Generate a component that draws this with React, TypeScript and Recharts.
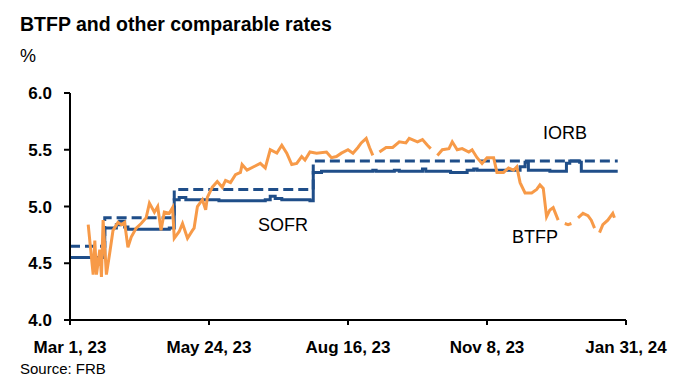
import React from 'react';
import { LineChart, Line, XAxis, YAxis } from 'recharts';

// days counted from Mar 1, 2023
const xTicks = [0, 84, 168, 252, 336];
const xTickLabels = ['Mar 1, 23', 'May 24, 23', 'Aug 16, 23', 'Nov 8, 23', 'Jan 31, 24'];
const yTicks = [4.0, 4.5, 5.0, 5.5, 6.0];

const iorbDays = [0, 21, 63, 147, 331];
const iorbValues = [4.65, 4.9, 5.15, 5.4, 5.4];

const sofrDays = [0, 21, 28, 30, 33, 35, 60, 63, 66, 70, 90, 118, 121, 124, 128, 145, 147, 152, 183, 185, 196, 199, 213, 215, 225, 230, 240, 244, 246, 265, 272, 275, 277, 290, 300, 302, 308, 309, 331];
const sofrValues = [4.55, 4.81, 4.84, 4.87, 4.82, 4.8, 4.81, 5.06, 5.08, 5.06, 5.05, 5.06, 5.09, 5.07, 5.06, 5.05, 5.3, 5.31, 5.32, 5.31, 5.32, 5.31, 5.33, 5.31, 5.31, 5.3, 5.32, 5.33, 5.32, 5.32, 5.35, 5.39, 5.32, 5.31, 5.38, 5.4, 5.39, 5.31, 5.31];

const btfpDays = [11, 14, 15, 16, 18, 19, 20, 22, 24, 26, 29, 31, 33, 35, 37, 40, 43, 46, 48, 51, 53, 55, 57, 60, 62, 63, 66, 68, 71, 74, 75, 77, 80, 82, 83, 86, 89, 92, 94, 97, 100, 103, 104, 107, 111, 115, 118, 121, 125, 128, 131, 134, 137, 140, 142, 145, 149, 155, 158, 161, 164, 168, 171, 174, 176, 179, 181, 183, 185, 187, 191, 195, 199, 203, 205, 210, 213, 216, 218, 220, 222, 225, 229, 231, 234, 237, 241, 243, 246, 249, 252, 256, 258, 262, 265, 268, 270, 272, 275, 279, 282, 284, 286, 288, 290, 292, 295, 297, 299, 301, 303, 305, 307, 310, 313, 315, 317, 319, 320, 322, 325, 328, 329];
const btfpValues = [4.84, 4.4, 4.7, 4.4, 4.62, 4.38, 4.88, 4.4, 4.59, 4.79, 4.86, 4.84, 4.86, 4.64, 4.73, 4.81, 4.85, 4.9, 5.03, 4.95, 5.0, 4.79, 4.95, 4.94, 4.99, 4.72, 4.78, 4.85, 4.72, 4.79, 4.81, 5.0, 5.06, 4.97, 5.08, 5.17, 5.22, 5.17, 5.23, 5.21, 5.28, 5.3, 5.37, 5.32, 5.35, 5.38, 5.34, 5.5, 5.47, 5.54, 5.47, 5.37, 5.38, 5.44, 5.41, 5.48, 5.47, 5.48, 5.43, 5.44, 5.47, 5.5, 5.47, 5.52, 5.56, 5.6, 5.52, 5.45, null, 5.48, 5.52, 5.52, 5.57, 5.56, 5.6, 5.57, 5.59, 5.54, 5.51, null, 5.45, 5.5, 5.51, 5.57, 5.5, 5.51, 5.48, 5.5, 5.43, 5.38, 5.43, 5.43, 5.3, 5.3, 5.34, 5.32, 5.35, 5.21, 5.12, 5.12, 5.15, 5.19, 5.16, 4.91, 4.97, 4.99, 4.88, null, 4.85, 4.84, 4.85, null, 4.9, 4.94, 4.92, 4.88, 4.81, null, 4.77, 4.84, 4.88, 4.94, 4.9];

const toRows = (days: number[], values: (number | null)[]) =>
  days.map((d, i) => ({ day: d, value: values[i] }));

const iorbData = toRows(iorbDays, iorbValues);
const sofrData = toRows(sofrDays, sofrValues);
const btfpData = toRows(btfpDays, btfpValues);

const NAVY = '#1F4E89';
const ORANGE = '#F79A48';
const FONT = '"Liberation Sans", Arial, sans-serif';

const txt = (left: number, top: number, size: number, weight: number | string = 'normal'): React.CSSProperties => ({
  position: 'absolute',
  left,
  top,
  fontSize: size,
  fontWeight: weight as any,
  lineHeight: 1,
  color: '#000',
  whiteSpace: 'nowrap',
});

export default function App() {
  return (
    <div style={{ position: 'relative', width: 700, height: 387, fontFamily: FONT, background: '#fff' }}>
      <style>{'body{margin:0}'}</style>
      <div style={txt(20, 15, 19.5, 'bold')}>BTFP and other comparable rates</div>
      <div style={txt(20, 47, 18)}>%</div>

      <LineChart width={700} height={387} margin={{ top: 93, right: 74, bottom: 37, left: 0 }}>
        <XAxis
          dataKey="day"
          type="number"
          domain={[0, 336]}
          ticks={xTicks}
          tickFormatter={(v: number) => xTickLabels[xTicks.indexOf(v)]}
          height={30}
          allowDataOverflow
          axisLine={{ stroke: '#000', strokeWidth: 2 }}
          tickLine={{ stroke: '#000', strokeWidth: 2 }}
          tickSize={5}
          tickMargin={16}
          tick={{ fill: '#000', fontSize: 17, fontWeight: 'bold', fontFamily: FONT }}
          interval={0}
        />
        <YAxis
          type="number"
          domain={[4, 6]}
          ticks={yTicks}
          width={70}
          tickFormatter={(v: number) => v.toFixed(1)}
          axisLine={{ stroke: '#000', strokeWidth: 2 }}
          tickLine={{ stroke: '#000', strokeWidth: 2 }}
          tickSize={6}
          tickMargin={12}
          tick={{ fill: '#000', fontSize: 17, fontWeight: 'bold', fontFamily: FONT }}
          interval={0}
        />
        <Line data={iorbData} dataKey="value" type="stepAfter" stroke={NAVY} strokeWidth={3} strokeDasharray="10 5" dot={false} isAnimationActive={false} />
        <Line data={sofrData} dataKey="value" type="stepAfter" stroke={NAVY} strokeWidth={3} dot={false} isAnimationActive={false} />
        <Line data={btfpData} dataKey="value" type="linear" stroke={ORANGE} strokeWidth={3} dot={false} connectNulls={false} isAnimationActive={false} />
      </LineChart>

      <div style={txt(543, 124, 18)}>IORB</div>
      <div style={txt(258, 216, 18)}>SOFR</div>
      <div style={txt(512, 228, 18)}>BTFP</div>
      <div style={txt(20, 361, 15)}>Source: FRB</div>
    </div>
  );
}
